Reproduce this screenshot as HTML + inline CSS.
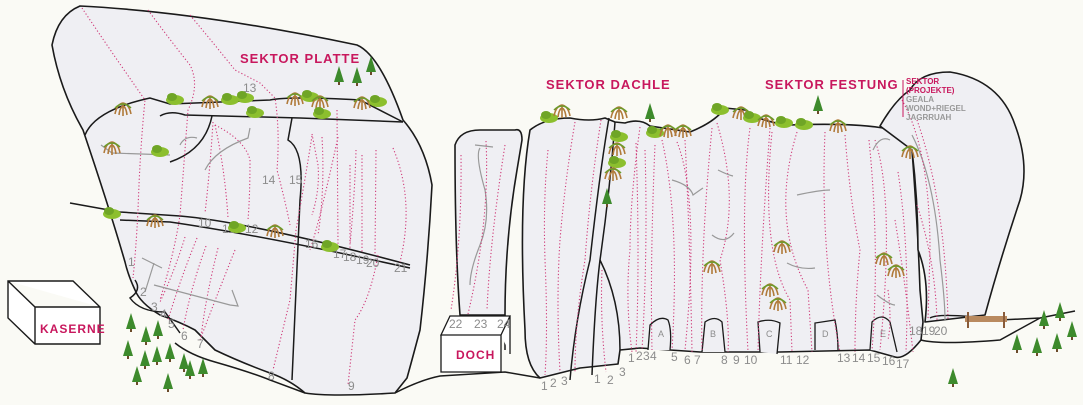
<!DOCTYPE html>
<html><head><meta charset="utf-8"><style>
html,body{margin:0;padding:0;background:#fafaf5;}
svg{display:block;}
.r{fill:#efeff3;stroke:#1a1a1a;stroke-width:1.6;stroke-linejoin:round}
.l{fill:none;stroke:#1a1a1a;stroke-width:1.5}
.g{fill:none;stroke:#999;stroke-width:1.2}
.d{fill:none;stroke:#cf3a78;stroke-width:1.1;stroke-dasharray:1.2 2.2}
.n{font-family:"Liberation Sans",sans-serif;font-size:12px;fill:#8c8c8c}
.t{font-family:"Liberation Sans",sans-serif;font-size:13px;font-weight:bold;fill:#c8175d;letter-spacing:1px}
.tr{fill:#3d8a2c}
.bu{fill:#8cbf2e}
</style></head><body>
<svg width="1083" height="405" viewBox="0 0 1083 405">
<defs>
<g id="tree"><polygon class="tr" points="0,-12 5,4 -5,4"/><rect x="-1" y="4" width="2" height="3" fill="#6b4a2a"/></g>
<g id="bush"><ellipse class="bu" cx="0" cy="0" rx="9" ry="5"/><ellipse fill="#6fa526" cx="-3" cy="-3" rx="5" ry="4"/></g>
<g id="shrub"><path d="M-8,4 Q-6,-6 0,-7 Q6,-6 8,4 M-4,5 Q-3,-3 0,-4 Q3,-3 4,5 M0,-7 L0,6" fill="none" stroke="#b07a3a" stroke-width="1.6"/><path d="M-8,-2 Q0,-10 8,-2" fill="none" stroke="#6b9b2a" stroke-width="1.5"/></g>
</defs>

<!-- ground line -->
<path class="l" d="M395,393 Q420,380 440,376 L505,372 L540,378"/>
<!-- Platte rock -->
<path class="r" d="M80,6 Q200,12 357,45 Q380,55 403,120 Q425,145 432,185 Q428,260 420,330 Q412,360 407,378 L395,393 Q330,397 305,393 Q290,380 270,373 Q240,362 215,350 L195,330 Q180,322 160,315 Q140,303 135,290 Q128,275 125,262 Q110,210 83,130 Q60,90 52,45 Q58,15 80,6 Z"/>
<path class="l" d="M85,135 Q95,110 150,98 L170,104 L270,100 Q290,96 360,100 L403,122"/>
<path class="l" d="M160,116 Q170,110 185,115 L300,118 L403,122"/>
<path class="l" d="M70,203 L120,212 L180,216 Q250,222 410,265"/>
<path class="l" d="M120,220 L170,222 Q260,235 410,268"/>
<path class="l" d="M212,116 Q205,150 170,162"/>
<path class="l" d="M292,118 L288,140 Q305,150 300,200 L292,380"/>
<path class="l" d="M135,280 Q142,290 130,298 Q140,312 165,312 L180,333"/>
<path class="l" d="M175,343 Q190,355 215,362 Q250,372 270,380 L305,393"/>
<!-- Platte routes -->
<path class="d" d="M82,8 Q110,50 145,100 Q140,150 138,210 Q136,250 133,278"/>
<path class="d" d="M148,10 Q170,40 190,65 Q200,85 188,110 Q185,150 180,215 Q175,250 160,300"/>
<path class="d" d="M190,15 Q215,45 235,70 L260,83 L275,98 Q280,130 277,170 Q285,200 290,225"/>
<path class="d" d="M213,122 Q210,170 205,213"/>
<path class="d" d="M215,125 Q225,170 228,218"/>
<path class="d" d="M215,125 Q245,140 250,160 Q250,195 248,220"/>
<path class="d" d="M312,134 L318,165 Q320,190 312,215"/>
<path class="d" d="M322,137 Q325,190 318,235"/>
<path class="d" d="M338,137 Q320,220 310,250"/>
<path class="d" d="M312,136 Q305,180 296,230 L290,300 L273,370"/>
<path class="d" d="M378,255 Q370,300 355,320 L348,385"/>
<path class="d" d="M356,150 Q355,190 350,245"/>
<path class="d" d="M337,110 L338,245"/>
<path class="d" d="M350,165 L350,248"/>
<path class="d" d="M362,155 L362,252"/>
<path class="d" d="M376,150 L375,255"/>
<path class="d" d="M393,148 Q415,200 400,262"/>
<path class="d" d="M185,237 Q175,270 160,302"/>
<path class="d" d="M197,238 Q180,280 168,320"/>
<path class="d" d="M206,246 Q190,290 183,330"/>
<path class="d" d="M218,248 Q205,300 201,338"/>
<path class="d" d="M235,250 Q215,300 200,340"/>
<path class="g" d="M142,258 L162,268 M154,263 L145,292 M154,285 L230,305 L238,306 L232,290"/>
<path class="g" d="M101,145 L112,153 L170,155"/>
<path class="g" d="M205,170 Q215,150 248,138 L250,128"/>
<path class="g" d="M180,145 Q185,135 197,138"/>
<!-- Platte labels -->
<text class="t" x="240" y="63">SEKTOR PLATTE</text>
<text class="n" x="243" y="92">13</text>
<text class="n" x="262" y="184">14</text>
<text class="n" x="289" y="184">15</text>
<text class="n" x="198" y="227">10</text>
<text class="n" x="222" y="233">11</text>
<text class="n" x="245" y="233">12</text>
<text class="n" x="305" y="248">16</text>
<text class="n" x="333" y="258">17</text>
<text class="n" x="343" y="261">18</text>
<text class="n" x="356" y="264">19</text>
<text class="n" x="366" y="267">20</text>
<text class="n" x="394" y="272">21</text>
<text class="n" x="128" y="266">1</text>
<text class="n" x="140" y="296">2</text>
<text class="n" x="151" y="311">3</text>
<text class="n" x="160" y="318">4</text>
<text class="n" x="168" y="328">5</text>
<text class="n" x="181" y="340">6</text>
<text class="n" x="197" y="348">7</text>
<text class="n" x="268" y="380">8</text>
<text class="n" x="348" y="390">9</text>
<!-- Kaserne -->
<path d="M8,281 L73,281 L100,307 L100,344 L35,344 L8,318 Z M8,281 L35,307 L100,307 M35,307 L35,344" fill="#fff" stroke="#1a1a1a" stroke-width="1.4"/>
<text class="t" x="40" y="333" style="font-size:12px">KASERNE</text>
<!-- Doch pillar -->
<path class="r" d="M455,145 Q460,130 480,130 L515,130 Q522,128 522,140 L517,170 Q505,240 505,315 L460,315 Q455,250 455,145 Z"/>
<path class="l" d="M505,315 L505,350"/>
<path class="g" d="M475,145 L493,147 M480,148 Q475,155 485,190 Q490,220 480,245 Q470,270 470,285"/>
<path class="d" d="M461,155 Q462,240 451,310"/>
<path class="d" d="M486,141 Q490,220 468,314"/>
<path class="d" d="M505,145 Q490,240 487,310"/>
<path d="M441,335 L450,316 L510,316 L501,335 Z M441,335 L501,335 L501,372 L441,372 Z M501,335 L510,316 L510,354" fill="#fff" stroke="#1a1a1a" stroke-width="1.3"/>
<text class="n" x="449" y="328">22</text>
<text class="n" x="474" y="328">23</text>
<text class="n" x="497" y="328">24</text>
<text class="t" x="456" y="359" style="font-size:12px">DOCH</text>
<!-- Dachle / Festung wall -->
<path class="r" d="M530,130 Q545,118 570,118 Q590,122 605,118 L615,122 L625,123 Q640,118 650,126 L690,132 Q715,122 725,108 L745,110 Q760,122 790,125 Q870,122 900,132 L912,150 Q918,230 920,290 L923,322 L921,340 Q905,360 895,357 L870,350 L780,352 L700,352 L640,348 L620,350 L618,364 L580,368 L540,378 Q525,365 525,330 Q518,200 530,130 Z"/>
<path class="r" d="M880,126 Q895,100 910,90 Q920,72 950,72 Q1000,80 1015,125 Q1030,165 1020,200 Q1000,260 985,315 L925,322 Q930,280 918,250 Q918,200 912,150 Z"/>
<path class="l" d="M930,318 Q940,312 1000,320 L1040,318 L1075,311"/>
<path class="l" d="M921,340 Q940,345 1000,340 L1040,318"/>
<path class="g" d="M912,135 Q935,180 940,260 Q945,300 945,320"/>
<path class="l" d="M609,118 Q600,170 590,260 Q575,320 570,380"/>
<path class="l" d="M615,122 Q610,190 600,260 Q595,300 592,375"/>
<path class="l" d="M600,260 Q620,300 620,350"/>
<!-- caves -->
<g fill="#efeff3" stroke="#1a1a1a" stroke-width="1.3">
<path d="M648,350 L650,325 Q660,315 668,320 Q672,330 670,350"/>
<path d="M702,352 L705,322 Q715,315 722,322 L725,352"/>
<path d="M760,352 L758,322 Q770,318 780,323 L777,354"/>
<path d="M815,350 L815,323 L835,320 Q838,335 838,350"/>
<path d="M870,350 L872,322 Q882,312 890,322 L897,352"/>
</g>
<g class="n" style="font-size:9px"><text x="658" y="337">A</text><text x="710" y="337">B</text><text x="766" y="337">C</text><text x="822" y="337">D</text><text x="880" y="337">E</text></g>
<!-- Dachle routes -->
<path class="d" d="M548,150 Q543,200 545,260 Q548,330 545,375"/>
<path class="d" d="M575,122 Q565,180 560,240 Q556,300 560,372"/>
<path class="d" d="M601,120 Q590,190 585,260 Q575,320 575,372"/>
<path class="d" d="M602,270 Q600,320 606,372"/>
<path class="d" d="M640,127 Q630,200 630,250 Q625,300 632,352"/>
<path class="d" d="M636,143 Q640,260 636,352"/>
<path class="d" d="M645,150 Q648,250 642,350"/>
<path class="d" d="M655,145 Q650,260 652,350"/>
<path class="d" d="M662,140 Q680,220 672,350"/>
<path class="d" d="M677,142 Q700,200 685,350"/>
<path class="d" d="M685,140 Q690,240 692,352"/>
<path class="d" d="M712,128 Q700,250 702,352"/>
<path class="d" d="M717,123 Q740,200 720,260 Q730,320 728,352"/>
<path class="d" d="M750,128 Q740,200 748,352"/>
<path class="d" d="M770,128 Q760,260 758,352"/>
<path class="d" d="M772,132 Q760,250 790,300 L792,352"/>
<path class="d" d="M797,132 Q770,220 808,290 L812,352"/>
<path class="d" d="M825,132 Q820,250 840,352"/>
<path class="d" d="M845,135 Q850,200 860,250 Q855,300 855,352"/>
<path class="d" d="M869,140 Q880,250 872,350"/>
<path class="d" d="M875,140 Q895,200 880,350"/>
<path class="d" d="M898,172 Q910,250 906,352"/>
<path class="d" d="M895,220 Q905,280 913,352"/>
<path class="d" d="M888,290 Q892,320 888,340"/>
<path class="d" d="M902,100 Q930,150 930,250 L928,320"/>
<path class="d" d="M917,205 Q935,260 937,320"/>
<path class="d" d="M917,120 Q945,200 948,320"/>
<path class="g" d="M672,180 Q690,185 693,195 Q700,190 703,188"/>
<path class="g" d="M718,170 Q728,175 733,176"/>
<path class="g" d="M712,235 Q725,245 734,233"/>
<path class="g" d="M797,195 Q820,190 830,190"/>
<path class="g" d="M787,263 Q800,270 815,268"/>
<path class="g" d="M877,295 Q890,305 895,305"/>
<path class="g" d="M873,150 Q880,135 890,140"/>
<line x1="903" y1="80" x2="903" y2="117" stroke="#c8175d" stroke-width="1"/>
<!-- labels right -->
<text class="t" x="546" y="89">SEKTOR DACHLE</text>
<text class="t" x="765" y="89">SEKTOR FESTUNG</text>
<g style="font-family:'Liberation Sans',sans-serif;font-size:8px;font-weight:bold">
<text x="906" y="84" fill="#c8175d">SEKTOR</text>
<text x="906" y="93" fill="#c8175d">(PROJEKTE)</text>
<text x="906" y="102" fill="#999">GEALA</text>
<text x="906" y="111" fill="#999">WOND+RIEGEL</text>
<text x="906" y="120" fill="#999">JAGRRUAH</text>
</g>
<g class="n">
<text x="541" y="390">1</text><text x="550" y="387">2</text><text x="561" y="385">3</text>
<text x="594" y="383">1</text><text x="607" y="384">2</text><text x="619" y="376">3</text>
<text x="628" y="362">1</text><text x="636" y="360">2</text><text x="643" y="360">3</text><text x="650" y="360">4</text>
<text x="671" y="361">5</text><text x="684" y="364">6</text><text x="694" y="364">7</text>
<text x="721" y="364">8</text><text x="733" y="364">9</text><text x="744" y="364">10</text>
<text x="780" y="364">11</text><text x="796" y="364">12</text>
<text x="837" y="362">13</text><text x="852" y="362">14</text><text x="867" y="362">15</text>
<text x="882" y="365">16</text><text x="896" y="368">17</text>
<text x="909" y="335">18</text><text x="922" y="335">19</text><text x="934" y="335">20</text>
</g>
<!-- bench -->
<rect x="965" y="316" width="42" height="6" fill="#b98a5f"/>
<rect x="967" y="312" width="2" height="16" fill="#8a5c3a"/><rect x="1003" y="312" width="2" height="16" fill="#8a5c3a"/>
<!-- vegetation -->
<use href="#shrub" x="123" y="110"/><use href="#bush" x="175" y="100"/><use href="#shrub" x="210" y="103"/>
<use href="#bush" x="230" y="100"/><use href="#bush" x="245" y="98"/><use href="#shrub" x="295" y="100"/>
<use href="#bush" x="310" y="97"/><use href="#shrub" x="320" y="103"/><use href="#bush" x="322" y="114"/>
<use href="#shrub" x="362" y="104"/><use href="#bush" x="378" y="102"/><use href="#bush" x="255" y="113"/>
<use href="#bush" x="160" y="152"/><use href="#shrub" x="112" y="149"/><use href="#bush" x="112" y="214"/>
<use href="#shrub" x="155" y="222"/><use href="#bush" x="237" y="228"/><use href="#shrub" x="275" y="232"/><use href="#bush" x="330" y="247"/>
<use href="#bush" x="549" y="118"/><use href="#shrub" x="562" y="112"/><use href="#shrub" x="619" y="114"/>
<use href="#bush" x="619" y="137"/><use href="#shrub" x="617" y="150"/><use href="#bush" x="617" y="163"/><use href="#shrub" x="613" y="175"/>
<use href="#bush" x="655" y="133"/><use href="#shrub" x="668" y="132"/><use href="#shrub" x="683" y="132"/>
<use href="#bush" x="720" y="110"/><use href="#shrub" x="741" y="114"/><use href="#bush" x="752" y="118"/>
<use href="#shrub" x="766" y="122"/><use href="#bush" x="784" y="123"/><use href="#bush" x="804" y="125"/><use href="#shrub" x="838" y="127"/>
<use href="#shrub" x="782" y="248"/><use href="#shrub" x="712" y="268"/><use href="#shrub" x="770" y="291"/><use href="#shrub" x="778" y="305"/>
<use href="#shrub" x="910" y="153"/><use href="#shrub" x="896" y="272"/><use href="#shrub" x="884" y="260"/>
<use href="#tree" x="339" y="78"/><use href="#tree" x="357" y="79"/><use href="#tree" x="371" y="68"/>
<use href="#tree" x="650" y="115"/><use href="#tree" x="818" y="107"/><use href="#tree" x="607" y="200"/>
<use href="#tree" x="131" y="325"/><use href="#tree" x="146" y="338"/><use href="#tree" x="158" y="332"/>
<use href="#tree" x="128" y="352"/><use href="#tree" x="145" y="362"/><use href="#tree" x="157" y="358"/>
<use href="#tree" x="170" y="355"/><use href="#tree" x="184" y="365"/><use href="#tree" x="203" y="370"/>
<use href="#tree" x="137" y="378"/><use href="#tree" x="168" y="385"/><use href="#tree" x="190" y="372"/>
<use href="#tree" x="953" y="380"/><use href="#tree" x="1044" y="322"/><use href="#tree" x="1060" y="314"/>
<use href="#tree" x="1072" y="333"/><use href="#tree" x="1017" y="346"/><use href="#tree" x="1037" y="349"/><use href="#tree" x="1057" y="345"/>
</svg>
</body></html>
